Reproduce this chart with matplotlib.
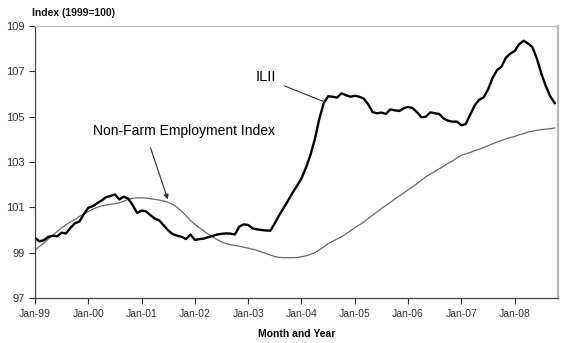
import numpy as np
import matplotlib.pyplot as plt

plt.rcParams['font.family'] = ['Liberation Sans', 'DejaVu Sans']

# monthly index values, Jan-1999 .. Oct-2008 (1999 = 100)
ilii = [
    99.65, 99.50, 99.55, 99.70, 99.75, 99.72, 99.88, 99.85, 100.10, 100.30,
    100.37, 100.70, 100.98, 101.05, 101.18, 101.30, 101.45, 101.50, 101.57, 101.35,
    101.47, 101.38, 101.10, 100.75, 100.86, 100.82, 100.65, 100.50, 100.42, 100.20,
    99.98, 99.82, 99.75, 99.70, 99.60, 99.80, 99.56, 99.60, 99.62, 99.68,
    99.74, 99.80, 99.83, 99.85, 99.84, 99.80, 100.15, 100.25, 100.22, 100.07,
    100.03, 100.00, 99.98, 99.97, 100.30, 100.66, 100.98, 101.30, 101.65, 101.95,
    102.28, 102.75, 103.30, 104.00, 104.90, 105.60, 105.90, 105.88, 105.84, 106.03,
    105.95, 105.88, 105.92, 105.88, 105.80, 105.55, 105.20, 105.15, 105.18, 105.12,
    105.32, 105.28, 105.25, 105.37, 105.43, 105.38, 105.20, 104.97, 105.00, 105.19,
    105.15, 105.12, 104.92, 104.82, 104.78, 104.78, 104.62, 104.68, 105.10, 105.50,
    105.75, 105.85, 106.20, 106.70, 107.05, 107.20, 107.60, 107.78, 107.90, 108.20,
    108.35, 108.23, 108.06, 107.55, 106.90, 106.35, 105.90, 105.60,
]
nonfarm = [
    99.12, 99.27, 99.42, 99.60, 99.76, 99.93, 100.10, 100.23, 100.36, 100.47,
    100.60, 100.70, 100.82, 100.92, 101.00, 101.06, 101.10, 101.13, 101.16, 101.20,
    101.27, 101.35, 101.40, 101.42, 101.42, 101.41, 101.38, 101.35, 101.32, 101.28,
    101.22, 101.13, 101.00, 100.83, 100.63, 100.42, 100.25, 100.10, 99.96, 99.82,
    99.70, 99.58, 99.47, 99.40, 99.35, 99.32, 99.28, 99.24, 99.20, 99.15,
    99.10, 99.03, 98.96, 98.89, 98.83, 98.79, 98.78, 98.78, 98.78, 98.79,
    98.82, 98.86, 98.92, 99.00, 99.12, 99.25, 99.40, 99.50, 99.60, 99.70,
    99.83, 99.96, 100.10, 100.22, 100.35, 100.50, 100.65, 100.80, 100.95, 101.08,
    101.22, 101.36, 101.50, 101.63, 101.77, 101.90, 102.05, 102.20, 102.35, 102.47,
    102.58, 102.70, 102.82, 102.94, 103.05, 103.18, 103.30, 103.36, 103.42, 103.50,
    103.56, 103.64, 103.72, 103.80, 103.88, 103.95, 104.02, 104.08, 104.13, 104.20,
    104.25, 104.32, 104.36, 104.40, 104.43, 104.45, 104.47, 104.50,
]
year_labels = ['Jan-99', 'Jan-00', 'Jan-01', 'Jan-02', 'Jan-03',
               'Jan-04', 'Jan-05', 'Jan-06', 'Jan-07', 'Jan-08']
y_ticks = [97, 99, 101, 103, 105, 107, 109]

months = np.arange(len(ilii))

fig = plt.figure(figsize=(5.79, 3.43), dpi=100)
ax = fig.add_axes([0.0604, 0.1312, 0.903, 0.793])

ax.plot(months, nonfarm, color='#6a6a6a', lw=0.9)
ax.plot(months, ilii, color='black', lw=1.7)

ax.set_xlim(0, 117.7)
ax.set_ylim(97, 109)
ax.set_xticks(np.arange(len(year_labels)) * 12)
ax.set_xticklabels(year_labels)
ax.set_yticks(y_ticks)
ax.tick_params(axis='both', labelsize=7.5, colors='#333333', length=4, width=0.8)
ax.tick_params(axis='y', labelsize=8)
ax.tick_params(axis='x', pad=4)

for side in ['left', 'bottom']:
    ax.spines[side].set_color('#444444')
    ax.spines[side].set_linewidth(0.9)
ax.spines['top'].set_color('#c0c0c0')
ax.spines['top'].set_linewidth(0.9)
ax.spines['right'].set_color('#b8b8b8')
ax.spines['right'].set_linewidth(1.6)

fig.text(0.055, 0.962, 'Index (1999=100)', fontsize=7.5, fontweight='bold',
         ha='left', va='center', color='#111111')
ax.set_xlabel('Month and Year', fontsize=7.5, fontweight='bold', labelpad=7)

# series labels with leader lines
ax.annotate('ILII', xy=(65.2, 105.65), xytext=(52.0, 106.75),
            fontsize=10.5, ha='center', va='center',
            arrowprops=dict(arrowstyle='-', color='#333333', lw=0.8,
                            relpos=(1.0, 0.1), shrinkA=4, shrinkB=0))
ax.annotate('Non-Farm Employment Index', xy=(29.9, 101.35), xytext=(33.5, 104.35),
            fontsize=10, ha='center', va='center',
            arrowprops=dict(arrowstyle='-|>', color='#333333', lw=0.8,
                            mutation_scale=7, relpos=(0.3, 0.0),
                            shrinkA=5, shrinkB=0))

fig.savefig('out.png', dpi=100)
